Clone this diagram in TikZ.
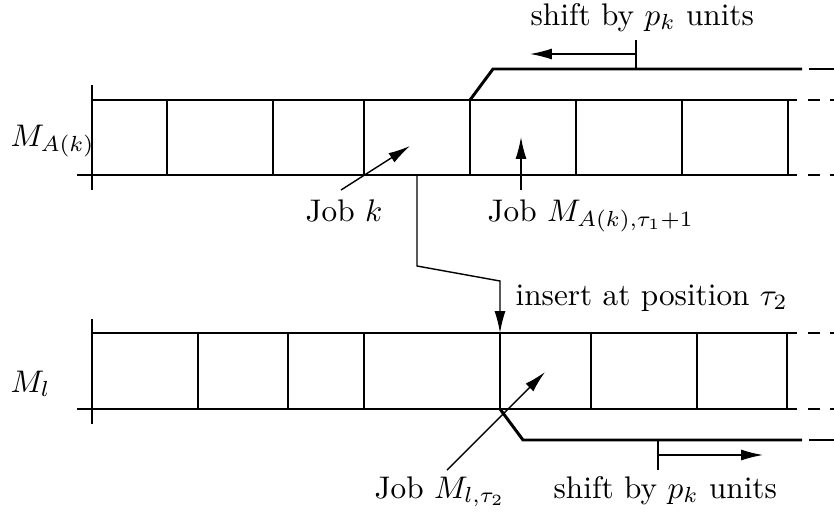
\documentclass[tikz,border=0pt]{standalone}
\usetikzlibrary{arrows.meta}
\begin{document}
\begin{tikzpicture}[x=0.32pt,y=-0.32pt,
  thinline/.style={line width=0.45pt},
  thickline/.style={line width=0.95pt},
  arr/.style={line width=0.45pt,-{Latex[length=7pt,width=3.5pt]}},
  lbl/.style={inner sep=0pt,anchor=base west}]
\useasboundingbox (0,0) rectangle (834,515);

% ---------- top machine M_A(k)
\draw[thinline] (92,85) -- (92,190);
\draw[thinline] (92,100) -- (797,100);
\draw[thinline] (77,175) -- (797,175);
\foreach \x in {167,273,364,470,576,682,788}
  \draw[thinline] (\x,100) -- (\x,175);
\foreach \y in {100,175} {
  \draw[thinline] (808,\y) -- (820,\y);
  \draw[thinline] (830,\y) -- (840,\y);
}
% thick shift line (top)
\coordinate (ts0) at (470,100);
\coordinate (ts1) at (493,69);
\coordinate (ts2) at (802,69);
\draw[thickline] (ts0) -- (ts1) -- (ts2);
\draw[thickline] (809,69) -- (840,69);
\coordinate (tt0) at (636,69);
\coordinate (tt1) at (636,40);
\coordinate (ta0) at (636,54);
\coordinate (ta1) at (530,54);
\draw[thinline] (tt0) -- (tt1);
\draw[arr] (ta0) -- (ta1);
\node[lbl] (shifttop) at (530,25) {shift by $p_k$ units};

\node[lbl] (MA) at (10,146) {$M_{A(k)}$};

% Job k
\node[lbl] (jobk) at (305,221) {Job $k$};
\coordinate (jk0) at (341,190);
\coordinate (jk1) at (410,146);
\draw[arr] (jk0) -- (jk1);

% Job M_{A(k),tau1+1}
\node[lbl] (jobM) at (487,221) {Job $M_{A(k),\tau_1+1}$};
\coordinate (jm0) at (521,190);
\coordinate (jm1) at (521,137);
\draw[arr] (jm0) -- (jm1);

% insert connector
\coordinate (c0) at (417,175);
\coordinate (c1) at (417,266);
\coordinate (c2) at (500,281);
\coordinate (c3) at (500,333);
\draw[arr] (c0) -- (c1) -- (c2) -- (c3);
\node[lbl] (insert) at (515,305) {insert at position $\tau_2$};

% ---------- bottom machine M_l
\draw[thinline] (92,319) -- (92,424);
\draw[thinline] (92,333) -- (797,333);
\draw[thinline] (77,409) -- (797,409);
\foreach \x in {198,288,364,500,591,697,787}
  \draw[thinline] (\x,333) -- (\x,409);
\foreach \y in {333,409} {
  \draw[thinline] (808,\y) -- (820,\y);
  \draw[thinline] (830,\y) -- (840,\y);
}
\node[lbl] (Ml) at (10,392) {$M_l$};

% thick shift line (bottom)
\coordinate (bs0) at (500,409);
\coordinate (bs1) at (523,440);
\coordinate (bs2) at (802,440);
\draw[thickline] (bs0) -- (bs1) -- (bs2);
\draw[thickline] (809,440) -- (840,440);
\coordinate (bt0) at (658,440);
\coordinate (bt1) at (658,470);
\coordinate (ba0) at (658,455);
\coordinate (ba1) at (763,455);
\draw[thinline] (bt0) -- (bt1);
\draw[arr] (ba0) -- (ba1);
\node[lbl] (shiftbot) at (553,498) {shift by $p_k$ units};

% Job M_{l,tau2}
\node[lbl] (jobMl) at (374,498) {Job $M_{l,\tau_2}$};
\coordinate (jl0) at (447,470);
\coordinate (jl1) at (545,372);
\draw[arr] (jl0) -- (jl1);
\end{tikzpicture}
\end{document}
